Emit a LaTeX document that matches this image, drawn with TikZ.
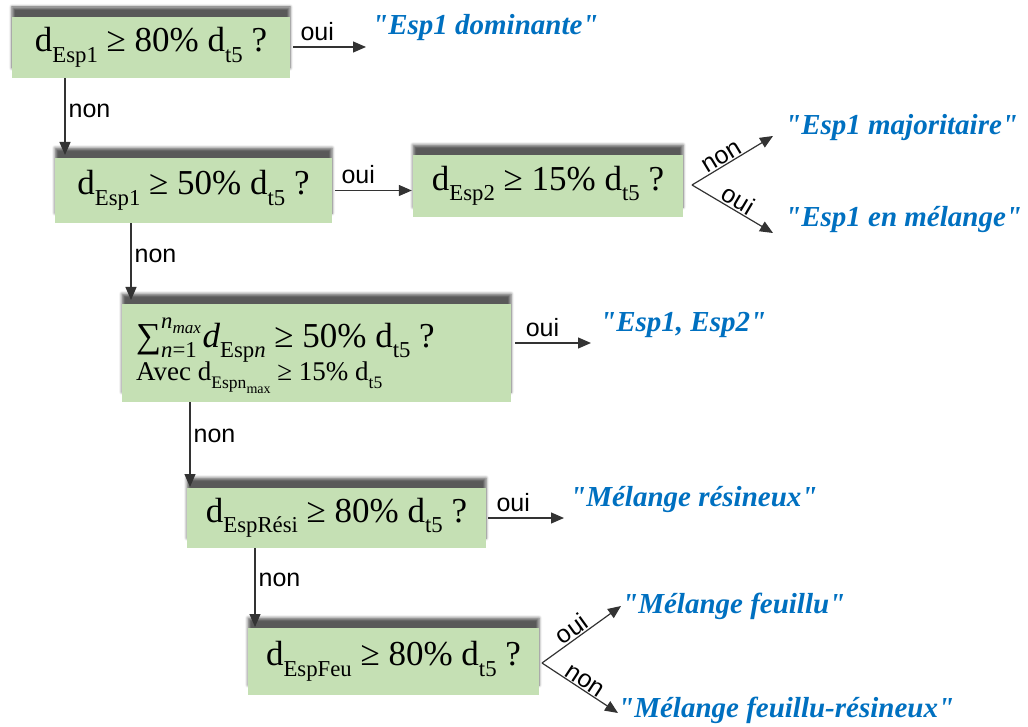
\documentclass[tikz,border=0pt]{standalone}
\usepackage{fontspec}
\usepackage{graphicx}
\setmainfont{Liberation Serif}
\newfontfamily\labfont{Liberation Sans}
\newfontfamily\resfont{Liberation Serif}[Ligatures=TeXOff]
\usetikzlibrary{arrows.meta,shadows.blur}
\definecolor{boxgreen}{HTML}{C5E0B4}
\definecolor{resblue}{HTML}{0070C0}
\definecolor{linegray}{HTML}{333333}
% subscript and superscript in the style of the word processor
\newcommand\dsub[1]{\raisebox{-0.3em}{\scalebox{0.65}{#1}}}
\newcommand\dsup[1]{\raisebox{0.55em}{\scalebox{0.65}{#1}}}
\tikzset{
  testbox/.style={fill=boxgreen, draw=none, inner sep=0pt,
    font=\fontsize{35}{40}\selectfont,
    blur shadow={shadow xshift=0pt, shadow yshift=10pt, shadow blur radius=3pt, shadow opacity=65}},
  result/.style={anchor=west, inner sep=0pt, text=resblue,
    font=\resfont\fontsize{29}{33}\selectfont\bfseries\itshape},
  lbl/.style={font=\labfont\fontsize{25}{28}\selectfont, inner sep=1pt},
  arr/.style={draw=linegray, line width=1.2pt, -{Triangle[length=13pt,width=11pt]}},
}
\begin{document}
\begin{tikzpicture}[x=1pt,y=-1pt]
\useasboundingbox (0,0) rectangle (1028,727);

% decision boxes
\node[testbox, minimum width=278pt, minimum height=61pt] (B1) at (151,47.5)
  {d\dsub{Esp1} ≥ 80\% d\dsub{t5} ?};
\node[testbox, minimum width=277pt, minimum height=65pt] (B2) at (193.5,190.5)
  {d\dsub{Esp1} ≥ 50\% d\dsub{t5} ?};
\node[testbox, minimum width=270pt, minimum height=62pt] (B3) at (548,186)
  {d\dsub{Esp2} ≥ 15\% d\dsub{t5} ?};
\node[testbox, minimum width=389pt, minimum height=98pt] (B4) at (316.5,353) {};
\node[anchor=west, inner sep=0pt, font=\fontsize{35}{40}\selectfont] (B4a) at (136,340)
  {∑\makebox[0pt][l]{\dsup{\textit{n}\raisebox{-0.25em}{\scalebox{0.75}{\textit{max}}}}}\dsub{\textit{n}=1}\,\textit{d}\dsub{Esp\textit{n}} ≥ 50\% d\dsub{t5} ?};
\node[anchor=west, inner sep=0pt, font=\fontsize{27}{30}\selectfont] (B4b) at (136,378)
  {Avec d\dsub{Espn\raisebox{-0.3em}{\scalebox{0.8}{max}}} ≥ 15\% d\dsub{t5}};
\node[testbox, minimum width=299pt, minimum height=60pt] (B5) at (336.5,518)
  {d\dsub{EspRési} ≥ 80\% d\dsub{t5} ?};
\node[testbox, minimum width=291pt, minimum height=67pt] (B6) at (393.5,661.5)
  {d\dsub{EspFeu} ≥ 80\% d\dsub{t5} ?};

% outcomes
\node[result] (R1) at (372,28) {"Esp1 dominante"};
\node[result] (R2) at (785,128) {"Esp1 majoritaire"};
\node[result] (R3) at (785,220) {"Esp1 en mélange"};
\node[result] (R4) at (600,325) {"Esp1, Esp2"};
\node[result] (R5) at (570,500) {"Mélange résineux"};
\node[result] (R6) at (622,606) {"Mélange feuillu"};
\node[result] (R7) at (618,710) {"Mélange feuillu-résineux"};

% arrow ends and branch points
\coordinate (t1) at (366,47);
\coordinate (t4) at (591,343);
\coordinate (t5) at (564,518);
\coordinate (s3) at (692,185);
\coordinate (t2) at (773,136);
\coordinate (t3) at (773,233);
\coordinate (s6) at (542,663);
\coordinate (t6) at (621,606);
\coordinate (t7) at (618,713);

% yes branches
\draw[arr] ([xshift=3pt]B1.east |- t1) -- node[lbl, above, pos=0.33, yshift=5pt] {oui} (t1);
\draw[arr] ([xshift=3pt]B2.east) -- node[lbl, above, pos=0.3, yshift=5pt] {oui} ([xshift=-1pt]B2.east -| B3.west);
\draw[arr] ([xshift=4pt]B4.east |- t4) -- node[lbl, above, pos=0.36, yshift=5pt] {oui} (t4);
\draw[arr] ([xshift=2pt]B5.east |- t5) -- node[lbl, above, pos=0.33, yshift=5pt] {oui} (t5);

% no branches
\draw[arr] ([xshift=-86pt]B1.south) -- node[lbl, right, pos=0.42, xshift=2pt] {non} ([xshift=-86pt]B1.south |- 0,155);
\draw[arr] ([xshift=131-193.5]B2.south) -- node[lbl, right, pos=0.42, xshift=2pt] {non} ([xshift=131-193.5]B2.south |- 0,300);
\draw[arr] ([xshift=190-316.5]B4.south) -- node[lbl, right, pos=0.4, xshift=2pt] {non} ([xshift=190-316.5]B4.south |- 0,487);
\draw[arr] ([xshift=255-336.5]B5.south) -- node[lbl, right, pos=0.4, xshift=2pt] {non} ([xshift=255-336.5]B5.south |- 0,627);

% forks
\draw[arr] (s3) -- node[lbl, above, sloped, pos=0.42] {non} (t2);
\draw[arr] (s3) -- node[lbl, above, sloped, pos=0.5] {oui} (t3);
\draw[arr] (s6) -- node[lbl, above, sloped, pos=0.45] {oui} (t6);
\draw[arr] (s6) -- node[lbl, above, sloped, pos=0.5] {non} (t7);
\end{tikzpicture}
\end{document}
